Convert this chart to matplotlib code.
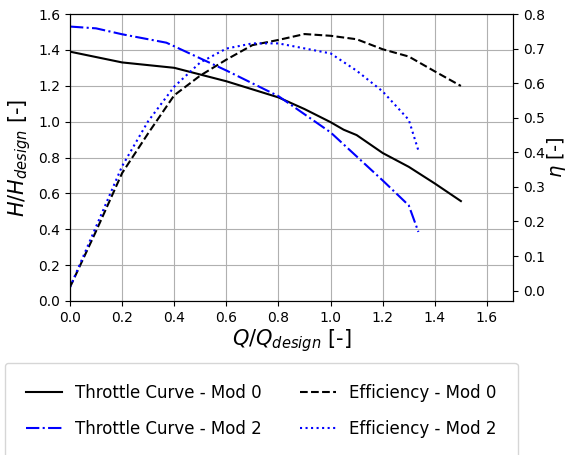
import matplotlib
matplotlib.use("Agg")
import matplotlib.pyplot as plt

# Throttle curves (left axis)
q_h0 = [0.0, 0.2, 0.4, 0.6, 0.8, 0.9, 1.0, 1.05, 1.1, 1.2, 1.3, 1.4, 1.5]
h_mod0 = [1.39, 1.33, 1.30, 1.225, 1.135, 1.07, 0.997, 0.955, 0.925, 0.825, 0.748, 0.655, 0.557]
q_h2 = [0.0, 0.1, 0.2, 0.37, 0.4, 0.6, 0.8, 1.0, 1.2, 1.3, 1.337]
h_mod2 = [1.53, 1.52, 1.487, 1.44, 1.42, 1.285, 1.142, 0.94, 0.672, 0.533, 0.385]

# Efficiency curves (right axis)
q_e0 = [0.0, 0.1, 0.2, 0.3, 0.4, 0.5, 0.6, 0.7, 0.8, 0.9, 1.0, 1.1, 1.2, 1.3, 1.4, 1.5]
eta_mod0 = [0.01, 0.172, 0.34, 0.455, 0.565, 0.622, 0.668, 0.71, 0.725, 0.742, 0.737, 0.727, 0.698, 0.677, 0.634, 0.592]
q_e2 = [0.0, 0.1, 0.2, 0.3, 0.4, 0.5, 0.6, 0.7, 0.8, 1.0, 1.1, 1.2, 1.3, 1.337]
eta_mod2 = [0.01, 0.185, 0.36, 0.49, 0.59, 0.66, 0.70, 0.715, 0.715, 0.686, 0.636, 0.576, 0.494, 0.405]

labels = ["Throttle Curve - Mod 0", "Throttle Curve - Mod 2",
          "Efficiency - Mod 0", "Efficiency - Mod 2"]

fig = plt.figure(figsize=(5.67, 4.55), dpi=100)
ax = fig.add_axes([70/567, 1-301/455, (513-70)/567, (301-14)/455])
ax2 = ax.twinx()

l1, = ax.plot(q_h0, h_mod0, color="black", ls="-", lw=1.5)
l2, = ax.plot(q_h2, h_mod2, color="blue", ls="-.", lw=1.5)
l3, = ax2.plot(q_e0, eta_mod0, color="black", ls="--", lw=1.5)
l4, = ax2.plot(q_e2, eta_mod2, color="blue", ls=":", lw=1.5)

ax.set_xlim(0, 1.7)
ax.set_ylim(0, 1.6)
ax2.set_ylim(-0.03, 0.8)
ax.grid(True)
ax.tick_params(labelsize=10)
ax2.tick_params(labelsize=10)
ax.set_xlabel(r"$Q/Q_{design}$ [-]", fontsize=15, labelpad=2)
ax.set_ylabel(r"$H/H_{design}$ [-]", fontsize=15)
ax2.set_ylabel(r"$\eta$ [-]", fontsize=14, labelpad=0)

fig.legend([l1, l2, l3, l4], labels, ncol=2, fontsize=12,
           loc="upper left", bbox_to_anchor=(5/567, 1-363/455),
           bbox_transform=fig.transFigure, borderaxespad=0,
           labelspacing=1.1, columnspacing=2.3, borderpad=1.25,
           handlelength=2.15)

fig.savefig("out.png", dpi=100)
